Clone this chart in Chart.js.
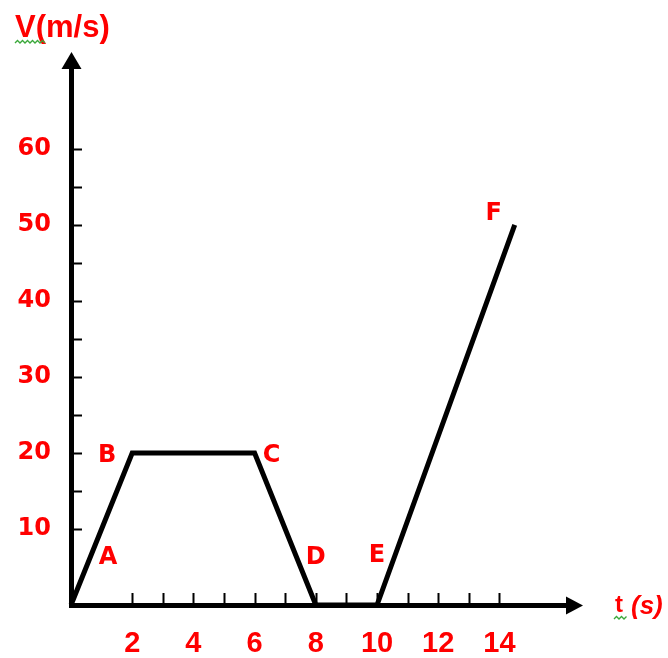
<!DOCTYPE html>
<html>
<head>
<meta charset="utf-8">
<title>V(m/s) - t(s)</title>
<script src="https://cdn.jsdelivr.net/npm/chart.js@4.4.0/dist/chart.umd.min.js"></script>
<style>
body { margin: 0; background: #fff; }
canvas { display: block; }
</style>
</head>
<body>
<canvas id="myChart" width="668" height="658"></canvas>
<script>
// corners of the speed-time graph
var times = [0, 2, 6, 8, 10, 14.5];
var speeds = [0, 20, 20, 0, 0, 50];
var pointNames = ['A', 'B', 'C', 'D', 'E', 'F'];

// tick labels and small tick marks on both axes
var tLabels = [2, 4, 6, 8, 10, 12, 14];
var vLabels = [10, 20, 30, 40, 50, 60];
var tMarks = [2, 3, 4, 5, 6, 7, 8, 9, 10, 11, 12, 13, 14];
var vMarks = [10, 15, 20, 25, 30, 35, 40, 45, 50, 55, 60];

var RED = '#ff0000';

// where each letter sits next to its corner (px)
var nameOffsets = [[37, -47], [-25, 3], [17, 3], [0, -47], [0, -49], [-21, -11]];

function squiggle(ctx, x0, x1, y) {
    ctx.beginPath();
    var up = true;
    ctx.moveTo(x0, y);
    for (var x = x0 + 2.5; x <= x1; x += 2.5) {
        ctx.lineTo(x, up ? y - 2.5 : y);
        up = !up;
    }
    ctx.stroke();
}

var axesDecor = {
    id: 'axesDecor',
    afterDatasetsDraw: function(chart) {
        var ctx = chart.ctx;
        var area = chart.chartArea;
        var xs = chart.scales.x;
        var ys = chart.scales.y;
        ctx.save();

        // tick marks pointing into the plot
        ctx.strokeStyle = '#000';
        ctx.lineWidth = 2;
        ctx.beginPath();
        tMarks.forEach(function(t) {
            var px = Math.round(xs.getPixelForValue(t)) + 0.5;
            ctx.moveTo(px, area.bottom);
            ctx.lineTo(px, area.bottom - 12);
        });
        vMarks.forEach(function(v) {
            var py = Math.round(ys.getPixelForValue(v)) + 0.5;
            ctx.moveTo(area.left, py);
            ctx.lineTo(area.left + 11, py);
        });
        ctx.stroke();

        // arrow heads
        ctx.fillStyle = '#000';
        var ax = area.left + 0.5;
        ctx.beginPath();
        ctx.moveTo(ax, area.top - 8);
        ctx.lineTo(ax - 10, area.top + 9);
        ctx.lineTo(ax + 10, area.top + 9);
        ctx.closePath();
        ctx.fill();
        var ay = area.bottom + 0.5;
        ctx.beginPath();
        ctx.moveTo(area.right + 8, ay);
        ctx.lineTo(area.right - 9, ay - 9);
        ctx.lineTo(area.right - 9, ay + 9);
        ctx.closePath();
        ctx.fill();

        // corner letters
        var meta = chart.getDatasetMeta(0);
        ctx.fillStyle = RED;
        ctx.font = 'bold 24px "DejaVu Sans", sans-serif';
        ctx.textAlign = 'center';
        ctx.textBaseline = 'middle';
        meta.data.forEach(function(pt, i) {
            ctx.fillText(pointNames[i], pt.x + nameOffsets[i][0], pt.y + nameOffsets[i][1]);
        });

        // axis names
        ctx.textAlign = 'left';
        ctx.textBaseline = 'alphabetic';
        ctx.font = 'bold 31px "Liberation Sans", Arial, sans-serif';
        ctx.fillText('V(m/s)', 15, 37);
        ctx.font = 'bold 24px "Liberation Sans", Arial, sans-serif';
        ctx.fillText('t', 615, 612);
        ctx.font = 'italic bold 26px "Liberation Sans", Arial, sans-serif';
        ctx.fillText('(s)', 631, 614);

        ctx.strokeStyle = '#3aa83a';
        ctx.lineWidth = 1.3;
        squiggle(ctx, 15, 45, 43);
        squiggle(ctx, 614, 628, 619);

        ctx.restore();
    }
};

var points = [];
for (var i = 0; i < times.length; i++) {
    points.push({ x: times[i], y: speeds[i] });
}

var ctx = document.getElementById('myChart').getContext('2d');
var chart = new Chart(ctx, {
    type: 'line',
    data: {
        datasets: [{
            data: points,
            borderColor: '#000',
            borderWidth: 5,
            borderJoinStyle: 'miter',
            pointRadius: 0,
            tension: 0,
            clip: false,
            fill: false
        }]
    },
    options: {
        responsive: false,
        animation: false,
        events: [],
        layout: { padding: { top: 60, right: 93, left: 0, bottom: 0 } },
        plugins: {
            legend: { display: false },
            tooltip: { enabled: false },
            title: { display: false }
        },
        scales: {
            x: {
                type: 'linear',
                min: 0,
                max: 16.47,
                afterFit: function(scale) { scale.height = 53; },
                grid: { display: true, drawOnChartArea: false, drawTicks: false },
                border: { display: true, color: '#000', width: 5 },
                ticks: {
                    stepSize: 1,
                    autoSkip: false,
                    maxRotation: 0,
                    padding: 22,
                    color: RED,
                    font: { family: '"Liberation Sans", Arial, sans-serif', weight: 'bold', size: 29 },
                    callback: function(v) { return tLabels.indexOf(v) >= 0 ? String(v) : ''; }
                }
            },
            y: {
                type: 'linear',
                min: 0,
                max: 71.7,
                afterFit: function(scale) { scale.width = 71; },
                grid: { display: true, drawOnChartArea: false, drawTicks: false },
                border: { display: true, color: '#000', width: 5 },
                ticks: {
                    stepSize: 5,
                    autoSkip: false,
                    padding: 20,
                    color: RED,
                    font: { family: '"DejaVu Sans", sans-serif', weight: 'bold', size: 24 },
                    callback: function(v) { return vLabels.indexOf(v) >= 0 ? String(v) : ''; }
                }
            }
        }
    },
    plugins: [axesDecor]
});
</script>
</body>
</html>
